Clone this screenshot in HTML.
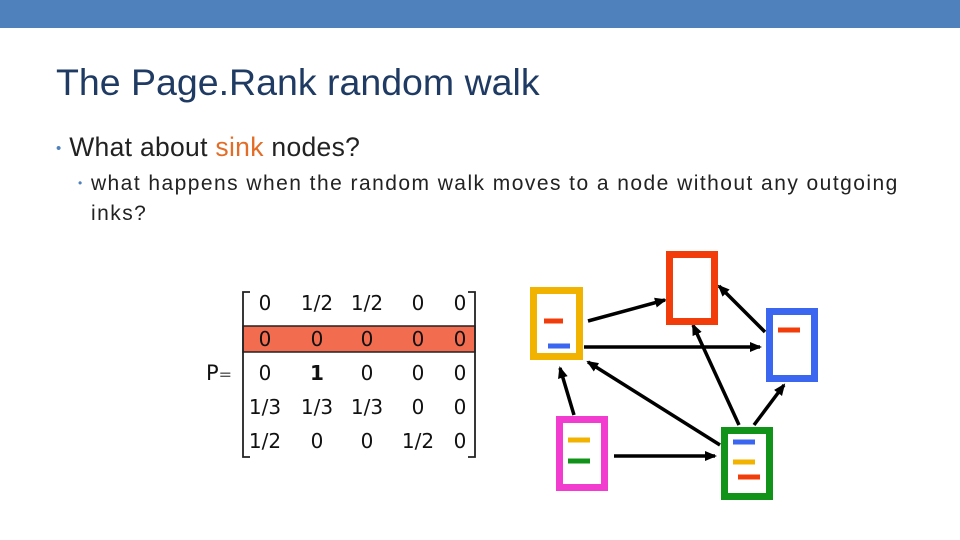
<!DOCTYPE html>
<html><head><style>
body{margin:0;width:960px;height:540px;background:#fff;position:relative;overflow:hidden;font-family:"Liberation Sans",sans-serif}
.bar{position:absolute;left:0;top:0;width:960px;height:28px;background:#4f81bd}
.t{position:absolute;white-space:nowrap}
.m{position:absolute;font-family:"DejaVu Sans","Liberation Sans",sans-serif;font-size:20px;color:#111;transform:translateX(-50%)}
</style></head><body>
<div class="bar"></div>
<div class="t" style="left:56px;top:61px;font-size:37.5px;color:#1f3b63">The Page.Rank random walk</div>
<div class="t" style="left:56px;top:132px;font-size:26.5px;color:#222;letter-spacing:0.3px"><span style="font-size:15px;color:#4f81bd;vertical-align:3px">•</span> What about <span style="color:#e36c26">sink</span> nodes?</div>
<div class="t" style="left:78px;top:172px;font-size:21px;color:#222;letter-spacing:1.45px"><span style="font-size:12px;color:#4f81bd;vertical-align:3px">•</span> what happens when the random walk moves to a node without any outgoing</div>
<div class="t" style="left:91px;top:202px;font-size:21px;color:#222;letter-spacing:1.45px">inks?</div>
<svg width="960" height="540" style="position:absolute;left:0;top:0">
<rect x="243" y="326" width="232" height="26" fill="#f26c4f" stroke="#222" stroke-width="1.5"/>
<path d="M250 292H243V457H250M468 292H475V457H468" fill="none" stroke="#222" stroke-width="1.8"/>
<defs><marker id="a" markerWidth="12" markerHeight="12" refX="10" refY="6" orient="auto" markerUnits="userSpaceOnUse" viewBox="0 0 12 12"><path d="M0 1L12 6L0 11z" fill="#000"/></marker></defs>
<g stroke="#000" stroke-width="3.5" marker-end="url(#a)">
<line x1="588" y1="321" x2="665" y2="300"/>
<line x1="584" y1="347" x2="760" y2="347"/>
<line x1="720" y1="445" x2="588" y2="362"/>
<line x1="574" y1="415" x2="560" y2="368"/>
<line x1="614" y1="456" x2="715" y2="456"/>
<line x1="739" y1="425" x2="693" y2="325"/>
<line x1="765" y1="332" x2="719" y2="286"/>
<line x1="754" y1="425" x2="784" y2="385"/>
</g>
<g fill="#fff" stroke-width="7">
<rect x="533.5" y="290.5" width="46" height="66" stroke="#f2b200"/>
<rect x="669.5" y="254.5" width="45" height="67" stroke="#f23c0a"/>
<rect x="769.5" y="311.5" width="45" height="67" stroke="#3a66f0"/>
<rect x="559.5" y="419.5" width="45" height="68" stroke="#f23ccf"/>
<rect x="724.5" y="430.5" width="45" height="66" stroke="#11931a"/>
</g>
<g stroke-width="5">
<line x1="544" y1="321" x2="563" y2="321" stroke="#f23c0a"/>
<line x1="548" y1="346" x2="570" y2="346" stroke="#3a66f0"/>
<line x1="778" y1="330" x2="800" y2="330" stroke="#f23c0a"/>
<line x1="568" y1="440" x2="590" y2="440" stroke="#f2b200"/>
<line x1="568" y1="461" x2="590" y2="461" stroke="#11931a"/>
<line x1="733" y1="442" x2="755" y2="442" stroke="#3a66f0"/>
<line x1="733" y1="462" x2="755" y2="462" stroke="#f2b200"/>
<line x1="738" y1="477" x2="760" y2="477" stroke="#f23c0a"/>
</g>
</svg>
<div class="t" style="left:206px;top:361px;font-family:'DejaVu Sans',sans-serif;font-size:21px;color:#111">P<span style="font-size:16px;color:#555">=</span></div>
<div class="m" style="left:265px;top:291px">0</div><div class="m" style="left:317px;top:291px">1/2</div><div class="m" style="left:367px;top:291px">1/2</div><div class="m" style="left:418px;top:291px">0</div><div class="m" style="left:460px;top:291px">0</div>
<div class="m" style="left:265px;top:327px">0</div><div class="m" style="left:317px;top:327px">0</div><div class="m" style="left:367px;top:327px">0</div><div class="m" style="left:418px;top:327px">0</div><div class="m" style="left:460px;top:327px">0</div>
<div class="m" style="left:265px;top:361px">0</div><div class="m" style="left:317px;top:361px;font-weight:bold">1</div><div class="m" style="left:367px;top:361px">0</div><div class="m" style="left:418px;top:361px">0</div><div class="m" style="left:460px;top:361px">0</div>
<div class="m" style="left:265px;top:395px">1/3</div><div class="m" style="left:317px;top:395px">1/3</div><div class="m" style="left:367px;top:395px">1/3</div><div class="m" style="left:418px;top:395px">0</div><div class="m" style="left:460px;top:395px">0</div>
<div class="m" style="left:265px;top:429px">1/2</div><div class="m" style="left:317px;top:429px">0</div><div class="m" style="left:367px;top:429px">0</div><div class="m" style="left:418px;top:429px">1/2</div><div class="m" style="left:460px;top:429px">0</div>
</body></html>
